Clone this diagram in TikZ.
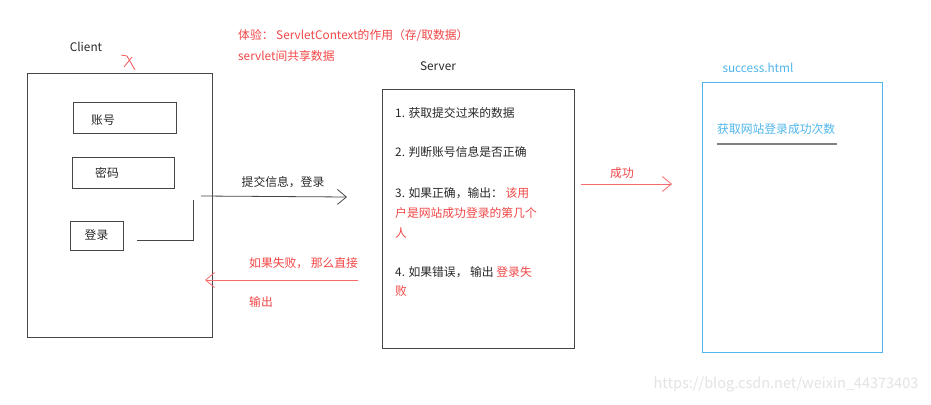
\documentclass[tikz,border=0pt]{standalone}
\usepackage{fontspec}
\setmainfont{Noto Sans CJK SC}
\usetikzlibrary{arrows.meta}
\definecolor{myred}{RGB}{242,70,70}
\definecolor{myblue}{RGB}{80,182,236}
\definecolor{lin}{RGB}{70,70,70}
\definecolor{txt}{RGB}{40,40,40}
\begin{document}
\begin{tikzpicture}[x=1pt,y=-1pt,
  every node/.style={font=\fontsize{11.8}{13}\selectfont, text=txt},
  box/.style={draw=lin, line width=0.9pt, inner sep=0pt, outer sep=0pt},
  bbox/.style={draw=myblue, line width=0.9pt, inner sep=0pt, outer sep=0pt},
  conn/.style={draw=lin, line width=0.8pt},
  rconn/.style={draw=myred!80, line width=0.8pt},
  tip/.style={-{Straight Barb[length=9pt,width=15pt]}},
  rtxt/.style={text=myred},
  ltxt/.style={anchor=west, inner sep=0pt}]
\useasboundingbox[fill=white] (0,0) rectangle (931,404);

% titles
\node (clientlbl) at (86,47) {Client};
\draw[myred, line width=0.7pt] (121,55) -- (127,56) -- (135,70);
\draw[myred, line width=0.7pt] (124,67) -- (132,57);
\node[ltxt, rtxt] (t1) at (238,36) {体验： ServletContext的作用（存/取数据）};
\node[ltxt, rtxt] (t2) at (238,56) {servlet间共享数据};
\node (serverlbl) at (438,66) {Server};
\node[text=myblue] (succlbl) at (758,68) {success.html};

% client
\node[box, minimum width=185pt, minimum height=264pt] (client) at (119.5,205) {};
\node[box, minimum width=103pt, minimum height=31pt] (acct) at (124.5,117.5) {};
\node (acctt) at (103,120) {账号};
\node[box, minimum width=102pt, minimum height=31pt] (pwd) at (123,172.5) {};
\node (pwdt) at (107,173) {密码};
\node[box, minimum width=53pt, minimum height=29pt] (login) at (96.5,235.5) {登录};

% server
\node[box, minimum width=192pt, minimum height=259pt] (server) at (478,218.5) {};
\node[ltxt] (s1) at (395,113) {1. 获取提交过来的数据};
\node[ltxt] (s2) at (395,152) {2. 判断账号信息是否正确};
\node[ltxt] (s3) at (395,193) {3. 如果正确，输出： \textcolor{myred}{该用}};
\node[ltxt, rtxt] (s3b) at (395,213) {户是网站成功登录的第几个};
\node[ltxt, rtxt] (s3c) at (395,233) {人};
\node[ltxt] (s4) at (395,272) {4. 如果错误， 输出 \textcolor{myred}{登录失}};
\node[ltxt, rtxt] (s4b) at (395,291) {败};

% success page
\node[bbox, minimum width=180pt, minimum height=270pt] (succ) at (792,217) {};
\node[ltxt, text=myblue] (count) at (717,129) {获取网站登录成功次数};
\draw[draw=gray, line width=1.2pt] ([yshift=-15pt]count.west) -- ++(120,0);

% connectors
\coordinate (lb) at (193,200);
\draw[conn] ([shift={(14,4.5)}]login.east) -- (lb |- 0,240) -- (lb);
\coordinate (a1) at (201,196);
\coordinate (a2) at (347,197);
\draw[conn, tip] (a1) -- (a2);
\node (submit) at (283,182) {提交信息，登录};

\coordinate (f1) at (358,280);
\coordinate (f2) at (205,280);
\draw[rconn, tip] (f1) -- (f2);
\node[ltxt, rtxt] (fail1) at (249,263) {如果失败， 那么直接};
\node[ltxt, rtxt] (fail2) at (249,302) {输出};

\coordinate (o1) at (581,184);
\coordinate (o2) at (672,184);
\draw[rconn, tip] (o1) -- (o2);
\node[rtxt] (ok) at (622,173) {成功};

% watermark
\node[text=gray!22, font=\fontsize{14.5}{16}\selectfont] (wm) at (786,385) {https://blog.csdn.net/weixin\_44373403};
\end{tikzpicture}
\end{document}
